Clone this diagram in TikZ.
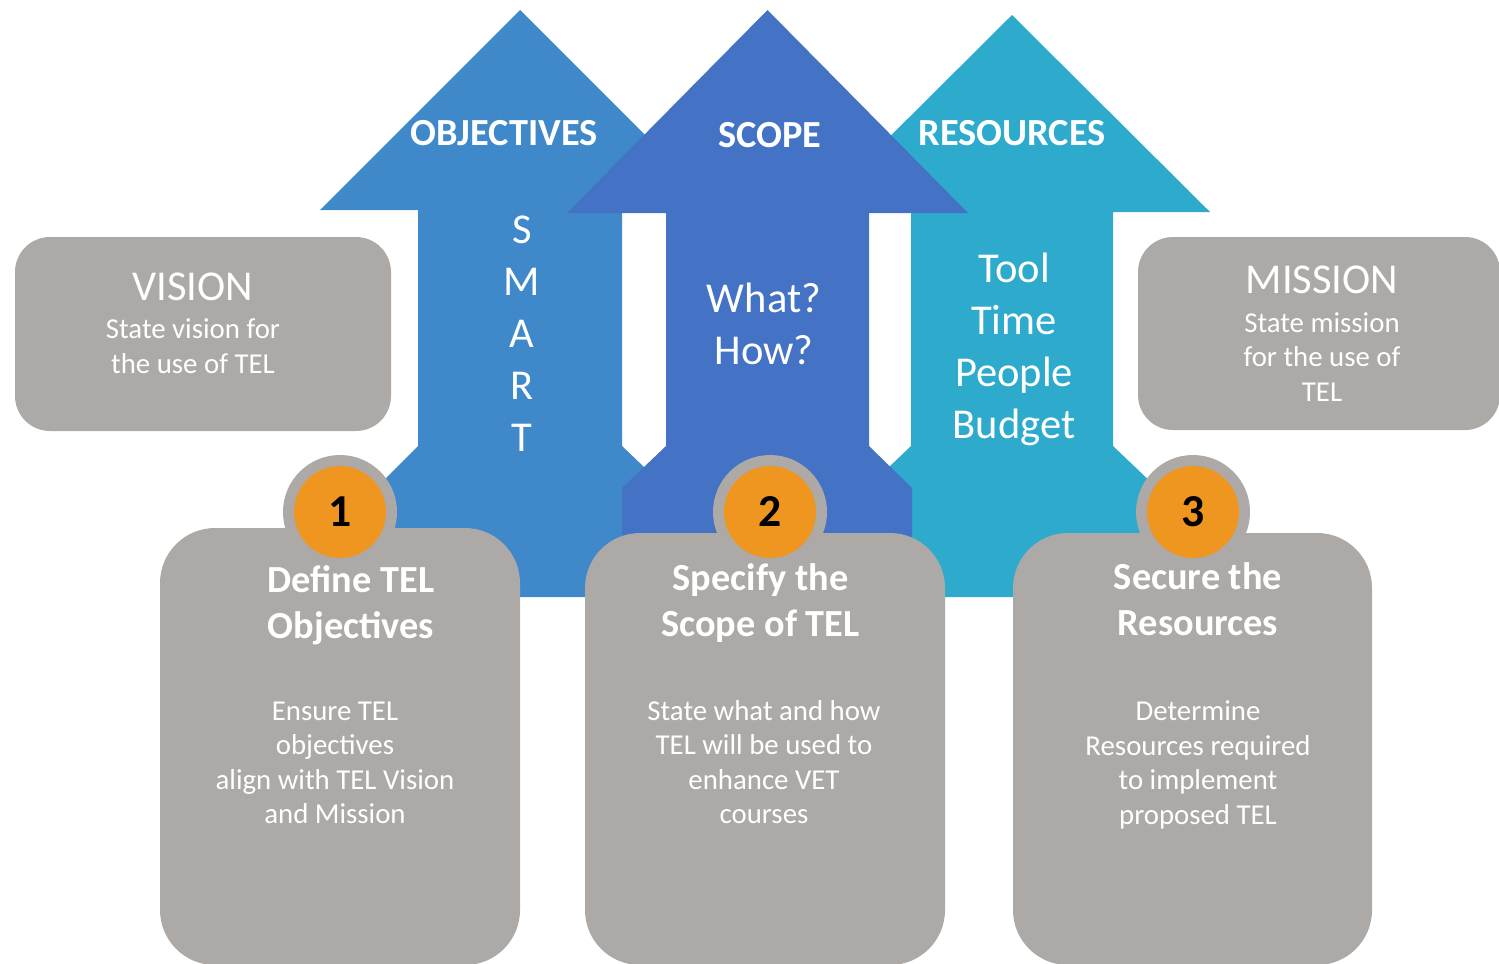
\documentclass[tikz,border=0pt]{standalone}
\usepackage{fontspec}
\setmainfont{Carlito}

\definecolor{objblue}{RGB}{63,136,201}
\definecolor{scopeblue}{RGB}{68,114,196}
\definecolor{resteal}{RGB}{45,170,204}
\definecolor{tilegray}{RGB}{172,169,167}
\definecolor{badgeorange}{RGB}{238,150,32}

\begin{document}
\begin{tikzpicture}[
    tile/.style={fill=tilegray, inner sep=0pt},
    ring/.style={circle, fill=tilegray, minimum size=1.14cm, inner sep=0pt},
    badge/.style={circle, fill=badgeorange, minimum size=0.92cm, inner sep=0pt,
        font=\fontsize{13}{15}\selectfont\bfseries},
    head/.style={text=white, font=\fontsize{10.9}{13.1}\selectfont\bfseries},
    word/.style={text=white, align=center, font=\fontsize{12.1}{14.8}\selectfont},
    title/.style={text=white, align=center, font=\fontsize{10.9}{13.1}\selectfont\bfseries},
    note/.style={text=white, align=center, font=\fontsize{8.2}{9.8}\selectfont}
]
    \useasboundingbox (0,0) rectangle (14.99,9.63);
    \clip (0,0) rectangle (14.99,9.63);

    % 1. 三个大箭头 (中间的画在最上面)
    \fill[objblue] (5.20,9.53) -- (7.20,7.53) -- (6.22,7.53) -- (6.22,5.17) -- (6.66,4.75)
        -- (6.66,3.66) -- (3.76,3.66) -- (3.76,4.75) -- (4.18,5.17) -- (4.18,7.53) -- (3.20,7.53) -- cycle;
    \fill[resteal] (10.12,9.48) -- (12.10,7.51) -- (11.13,7.51) -- (11.13,5.17) -- (11.57,4.75)
        -- (11.57,3.66) -- (8.67,3.66) -- (8.67,4.75) -- (9.11,5.17) -- (9.11,7.51) -- (8.14,7.51) -- cycle;
    \fill[scopeblue] (7.675,9.53) -- (9.68,7.50) -- (8.69,7.50) -- (8.69,5.17) -- (9.12,4.75)
        -- (9.12,3.66) -- (6.22,3.66) -- (6.22,4.75) -- (6.66,5.17) -- (6.66,7.50) -- (5.67,7.50) -- cycle;

    % 2. 左右两个灰色框
    \node[tile, rounded corners=0.35cm, minimum width=3.76cm, minimum height=1.94cm] (vision) at (2.03,6.29) {};
    \node[tile, rounded corners=0.35cm, minimum width=3.62cm, minimum height=1.93cm] (mission) at (13.19,6.295) {};

    % 3. 编号外圈和下方三个灰色框
    \node[ring] (ring1) at (3.40,4.51) {};
    \node[ring] (ring2) at (7.70,4.51) {};
    \node[ring] (ring3) at (11.93,4.51) {};
    \node[tile, rounded corners=0.55cm, minimum width=3.60cm, minimum height=4.37cm] (define) at (3.40,2.165) {};
    \node[tile, rounded corners=0.55cm, minimum width=3.60cm, minimum height=4.32cm] (specify) at (7.65,2.14) {};
    \node[tile, rounded corners=0.55cm, minimum width=3.59cm, minimum height=4.32cm] (secure) at (11.925,2.14) {};

    % 4. 橙色编号
    \node[badge] (one) at (ring1) {1};
    \node[badge] (two) at (ring2) {2};
    \node[badge] (three) at (ring3) {3};

    % 5. 箭头上的文字
    \node[head] (objlabel) at (5.04,8.30) {OBJECTIVES};
    \node[head] (scopelabel) at (7.70,8.28) {SCOPE};
    \node[head] (reslabel) at (10.12,8.30) {RESOURCES};
    \node[word] (smart) at (5.22,6.29) {S\\M\\A\\R\\T};
    \node[word] (whathow) at (7.64,6.39) {What?\\How?};
    \node[word] (needs) at (10.14,6.14) {Tool\\Time\\People\\Budget};

    % 6. 框内文字
    \node[text=white, font=\fontsize{12.1}{14.5}\selectfont] (visiontitle) at (1.93,6.76) {VISION};
    \node[note] (visiontext) at (1.93,6.17) {State vision for\\the use of TEL};
    \node[text=white, font=\fontsize{12.1}{14.5}\selectfont] (missiontitle) at (13.22,6.83) {MISSION};
    \node[note] (missiontext) at (13.22,6.06) {State mission\\for the use of\\TEL};

    \node[title] (definetitle) at (3.51,3.575) {Define TEL\\Objectives};
    \node[title] (specifytitle) at (7.605,3.595) {Specify the\\Scope of TEL};
    \node[title] (securetitle) at (11.98,3.635) {Secure the\\Resources};

    \node[note] (definetext) at (3.35,2.00) {Ensure TEL\\objectives\\align with TEL Vision\\and Mission};
    \node[note] (specifytext) at (7.64,2.01) {State what and how\\TEL will be used to\\enhance VET\\courses};
    \node[note] (securetext) at (11.98,1.98) {Determine\\Resources required\\to implement\\proposed TEL};

\end{tikzpicture}
\end{document}
